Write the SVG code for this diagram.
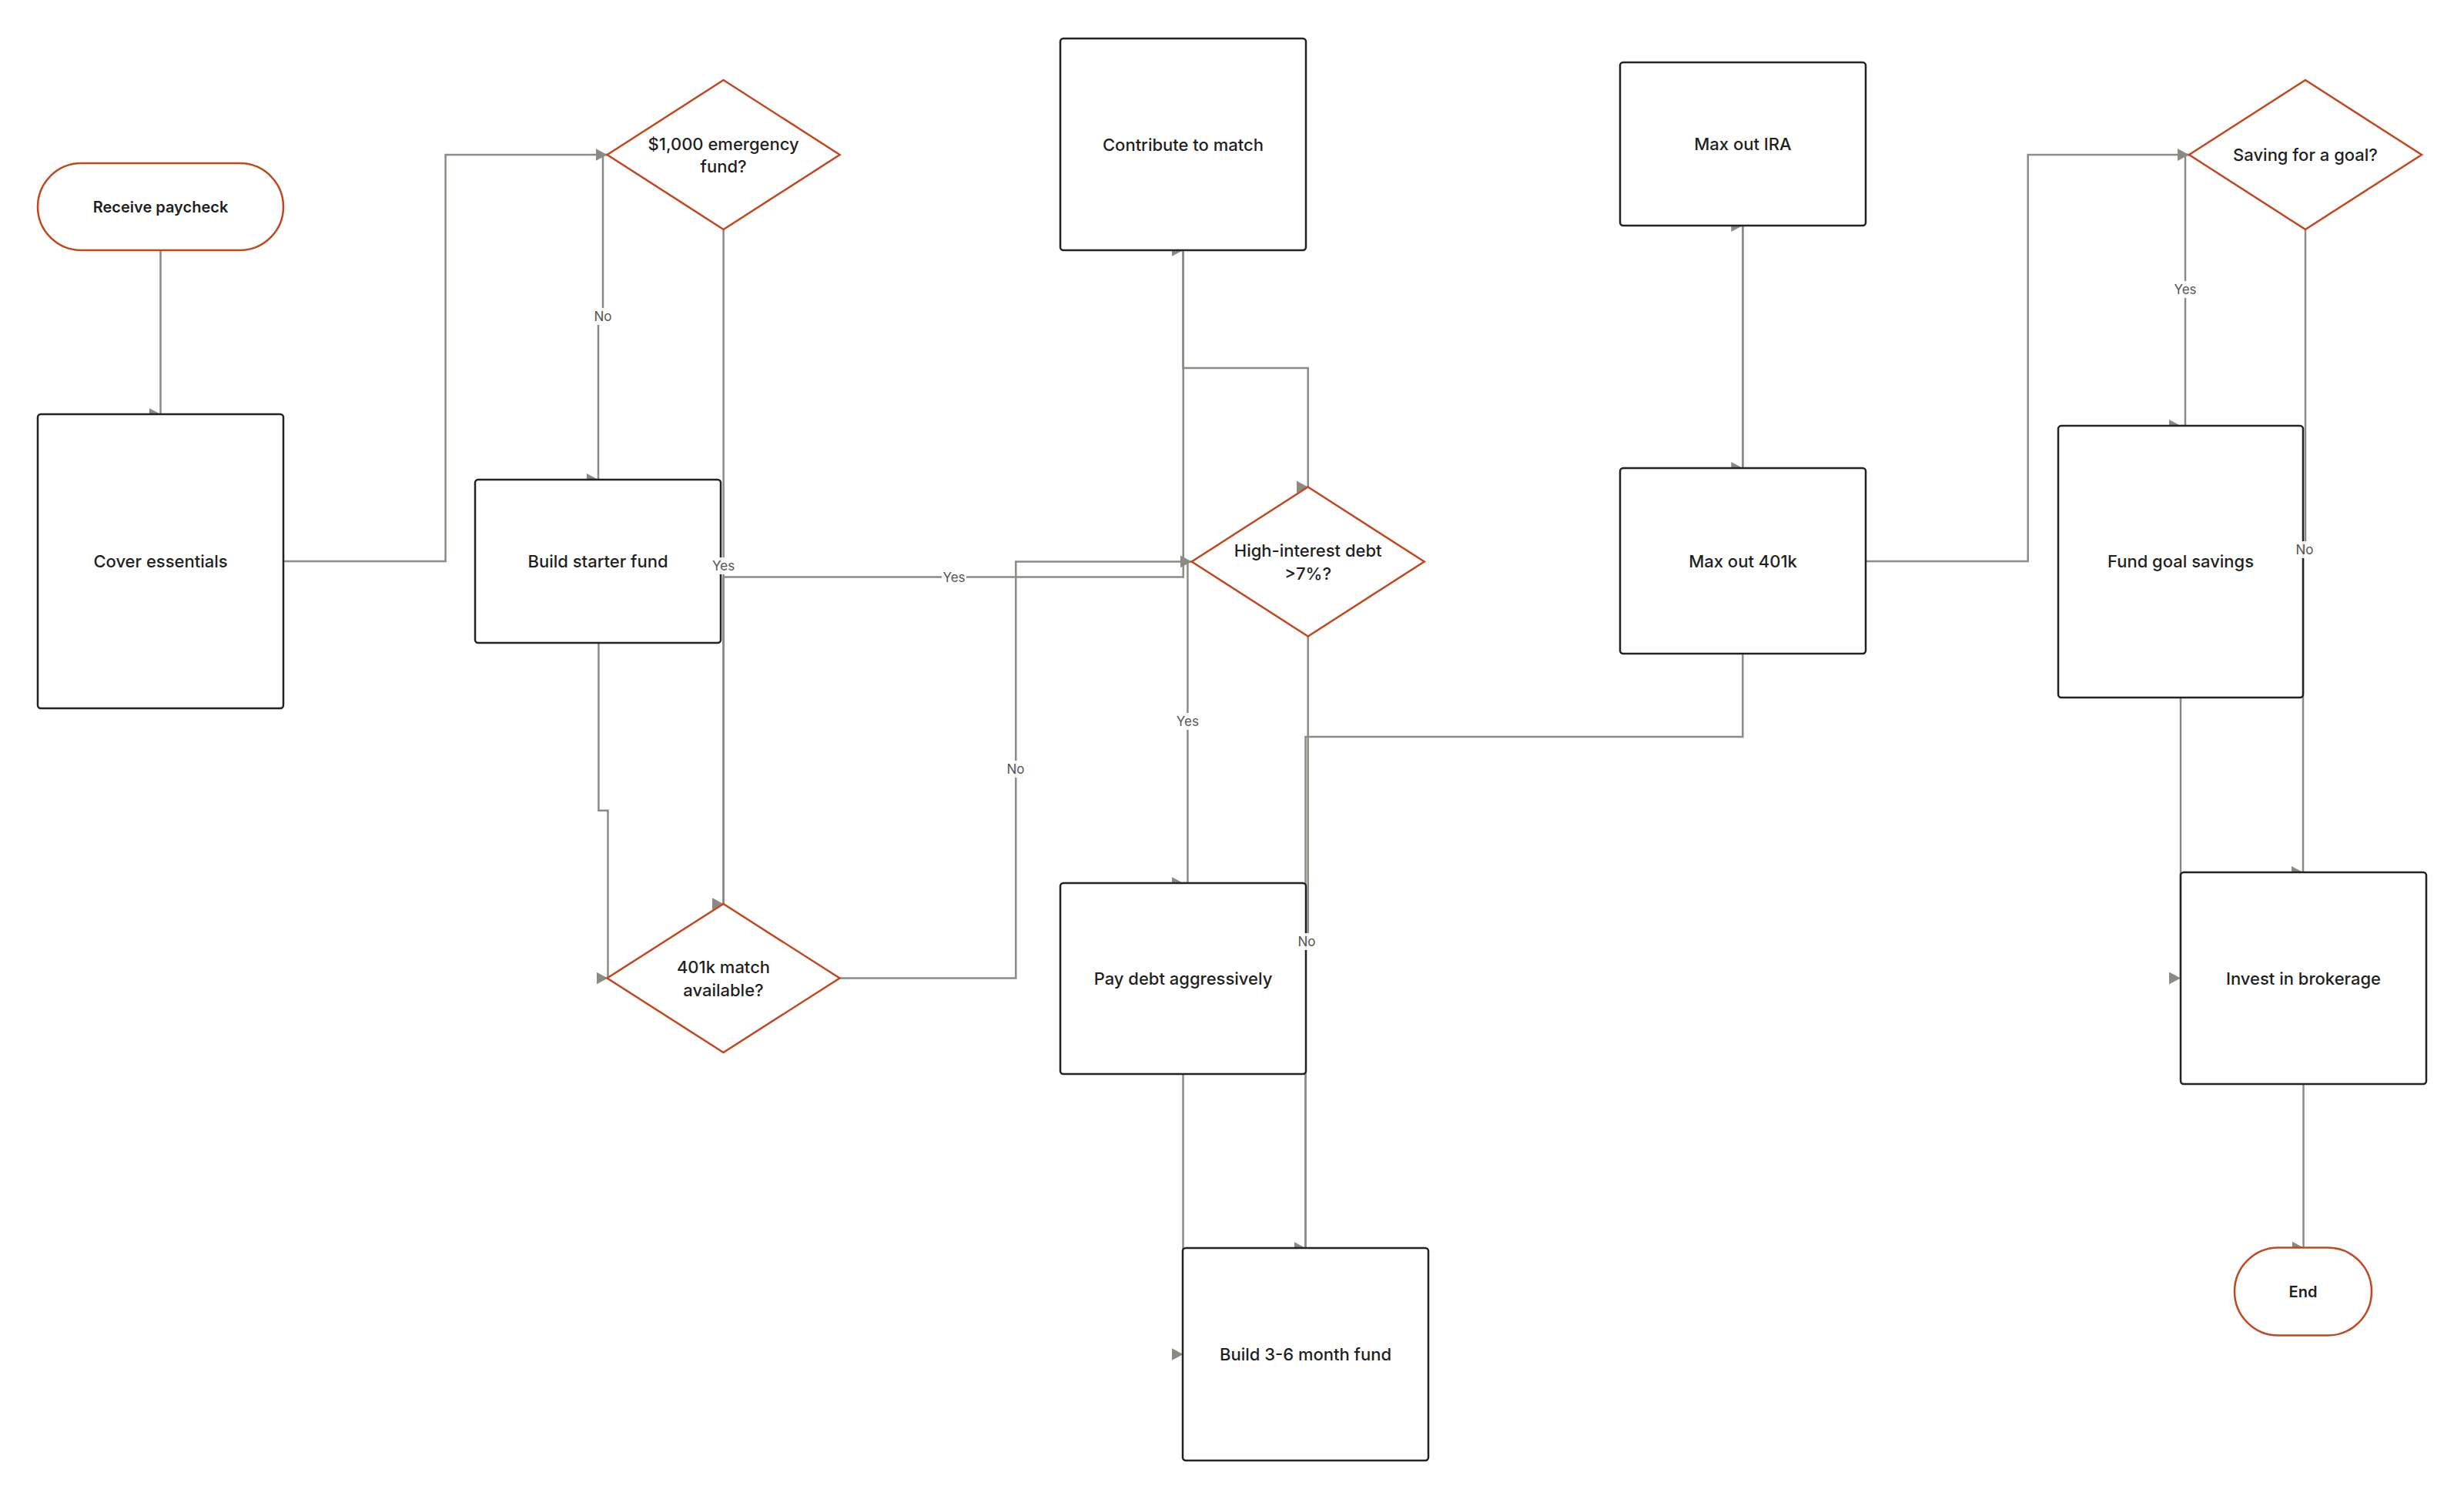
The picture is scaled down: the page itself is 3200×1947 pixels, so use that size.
<svg xmlns="http://www.w3.org/2000/svg" width="3200" height="1947" viewBox="0 0 3200 1947">
<style>
.bg{fill:#ffffff}
.box{fill:#ffffff;stroke:#222222;stroke-width:2.5}
.term{fill:#ffffff;stroke:#c2471f;stroke-width:2.5}
.dec{fill:#ffffff;stroke:#c2471f;stroke-width:2.5}
.t{font-family:Inter,"Noto Sans","Liberation Sans",sans-serif;font-size:22px;font-weight:500;fill:#1f1f1f;text-anchor:middle;dominant-baseline:central}
.tb{font-weight:600;font-size:20px}
.edge{fill:none;stroke:#8d8a83;stroke-width:2.5}
.lblbg{fill:#ffffff;fill-opacity:0.9}
.lbl{font-family:Inter,"Noto Sans","Liberation Sans",sans-serif;font-size:17px;font-weight:400;fill:#555555;text-anchor:middle;dominant-baseline:central}
</style>
<defs>
<marker id="arr" markerUnits="userSpaceOnUse" markerWidth="15" markerHeight="16" refX="15" refY="8" orient="0">
<path d="M0,0 L15,8 L0,16 Z" fill="#8d8a83"/>
</marker>
</defs>
<rect class="bg" x="0" y="0" width="3200" height="1947"/>
<g id="connectors">
<path class="edge" d="M208.5,325 L208.5,538" marker-end="url(#arr)"/>
<path class="edge" d="M368,729 L578.6,729 L578.6,201 L788.6,201" marker-end="url(#arr)"/>
<path class="edge" d="M788.6,201 L783,201 L783,412 L777,412 L777,623" marker-end="url(#arr)"/>
<path class="edge" d="M939.6,298 L939.6,1174" marker-end="url(#arr)"/>
<path class="edge" d="M777.4,835 L777.4,1052.7 L789.5,1052.7 L789.5,1270.5" marker-end="url(#arr)"/>
<path class="edge" d="M939.5,1174 L939.5,749.6 L1536.7,749.6 L1536.7,325" marker-end="url(#arr)"/>
<path class="edge" d="M1090.5,1270.5 L1319.3,1270.5 L1319.3,729.4 L1547.7,729.4" marker-end="url(#arr)"/>
<path class="edge" d="M1536.5,325 L1536.5,478 L1698.7,478 L1698.7,632.5" marker-end="url(#arr)"/>
<path class="edge" d="M1547.7,729.5 L1542.4,729.5 L1542.4,1147 L1536.6,1147" marker-end="url(#arr)"/>
<path class="edge" d="M1698.7,826.5 L1698.7,1223 L1695.5,1223 L1695.5,1621" marker-end="url(#arr)"/>
<path class="edge" d="M1536.5,1395 L1536.5,1759" marker-end="url(#arr)"/>
<path class="edge" d="M1695.5,1621 L1695.5,957 L2263.3,957 L2263.3,293" marker-end="url(#arr)"/>
<path class="edge" d="M2263.3,293 L2263.3,608" marker-end="url(#arr)"/>
<path class="edge" d="M2423,729 L2633.7,729 L2633.7,201 L2843,201" marker-end="url(#arr)"/>
<path class="edge" d="M2843,201 L2838,201 L2838,553 L2832,553" marker-end="url(#arr)"/>
<path class="edge" d="M2994,298 L2994,715 L2991,715 L2991,1133" marker-end="url(#arr)"/>
<path class="edge" d="M2832,906 L2832,1270.5" marker-end="url(#arr)"/>
<path class="edge" d="M2991.5,1408 L2991.5,1620.5" marker-end="url(#arr)"/>
</g>
<g id="nodes">
<g id="receive"><rect class="term" x="49" y="212" width="319" height="113" rx="56.5"/><text class="t tb" x="208.5" y="268.5">Receive paycheck</text></g>
<g id="cover"><rect class="box" x="49" y="538" width="319" height="382" rx="4"/><text class="t" x="208.5" y="729">Cover essentials</text></g>
<g id="emergency"><polygon class="dec" points="939.6,104 1090.6,201 939.6,298 788.6,201"/><text class="t" x="939.6" y="187">$1,000 emergency</text><text class="t" x="939.6" y="216">fund?</text></g>
<g id="starter"><rect class="box" x="617" y="623" width="319" height="212" rx="4"/><text class="t" x="776.5" y="729">Build starter fund</text></g>
<g id="match"><polygon class="dec" points="939.5,1174 1090.5,1270.5 939.5,1367 788.5,1270.5"/><text class="t" x="939.5" y="1256">401k match</text><text class="t" x="939.5" y="1285.5">available?</text></g>
<g id="contribute"><rect class="box" x="1377" y="50" width="319" height="275" rx="4"/><text class="t" x="1536.5" y="187.5">Contribute to match</text></g>
<g id="debt"><polygon class="dec" points="1698.7,632.5 1849.7,729.5 1698.7,826.5 1547.7,729.5"/><text class="t" x="1698.7" y="715">High-interest debt</text><text class="t" x="1698.7" y="744.5">&gt;7%?</text></g>
<g id="paydebt"><rect class="box" x="1377" y="1147" width="319" height="248" rx="4"/><text class="t" x="1536.5" y="1271">Pay debt aggressively</text></g>
<g id="build36"><rect class="box" x="1536" y="1621" width="319" height="276" rx="4"/><text class="t" x="1695.5" y="1759">Build 3-6 month fund</text></g>
<g id="ira"><rect class="box" x="2104" y="81" width="319" height="212" rx="4"/><text class="t" x="2263.5" y="187">Max out IRA</text></g>
<g id="max401k"><rect class="box" x="2104" y="608" width="319" height="241" rx="4"/><text class="t" x="2263.5" y="728.5">Max out 401k</text></g>
<g id="goal"><polygon class="dec" points="2994,104 3145,201 2994,298 2843,201"/><text class="t" x="2994" y="201">Saving for a goal?</text></g>
<g id="fundgoal"><rect class="box" x="2673" y="553" width="318" height="353" rx="4"/><text class="t" x="2832" y="729">Fund goal savings</text></g>
<g id="invest"><rect class="box" x="2832" y="1133" width="319" height="275" rx="4"/><text class="t" x="2991.5" y="1270.5">Invest in brokerage</text></g>
<g id="end"><rect class="term" x="2902" y="1620.5" width="178" height="114" rx="57"/><text class="t tb" x="2991" y="1677.5">End</text></g>
</g>
<g id="connector-labels">
<rect class="lblbg" x="770" y="400" width="26" height="22"/><text class="lbl" x="783" y="411">No</text>
<rect class="lblbg" x="924" y="724" width="31" height="22"/><text class="lbl" x="939.6" y="735">Yes</text>
<rect class="lblbg" x="1223" y="738.5" width="32" height="22"/><text class="lbl" x="1239" y="749.5">Yes</text>
<rect class="lblbg" x="1306" y="988" width="26" height="22"/><text class="lbl" x="1319" y="999">No</text>
<rect class="lblbg" x="1527" y="926" width="31" height="22"/><text class="lbl" x="1542.4" y="937">Yes</text>
<rect class="lblbg" x="1684" y="1212" width="26" height="22"/><text class="lbl" x="1697" y="1223">No</text>
<rect class="lblbg" x="2822" y="365" width="32" height="22"/><text class="lbl" x="2838" y="376">Yes</text>
<rect class="lblbg" x="2980" y="703" width="26" height="22"/><text class="lbl" x="2993" y="714">No</text>
</g>
</svg>
